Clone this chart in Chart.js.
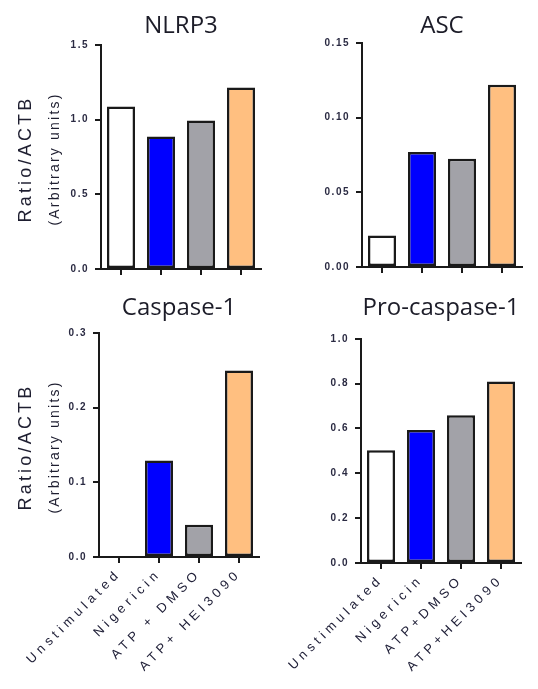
<!DOCTYPE html>
<html><head><meta charset="utf-8">
<script src="https://cdn.jsdelivr.net/npm/chart.js@4.4.1/dist/chart.umd.min.js"></script>
<style>
html,body{margin:0;padding:0;background:#fff;width:538px;height:689px;overflow:hidden;position:relative;}
canvas{position:absolute;display:block;}
.ylab{position:absolute;white-space:nowrap;transform:translate(-50%,-50%) rotate(-90deg);font-family:"Liberation Sans",Arial,sans-serif;color:#1e1e30;}
.l1{font-size:18px;letter-spacing:3.2px;}
.l2{font-size:14px;letter-spacing:2.2px;}
</style></head><body>
<canvas id="c1" width="270" height="290" style="left:0;top:0"></canvas>
<canvas id="c2" width="268" height="290" style="left:270px;top:0"></canvas>
<canvas id="c3" width="270" height="399" style="left:0;top:290px"></canvas>
<canvas id="c4" width="268" height="399" style="left:270px;top:290px"></canvas>
<div class="ylab l1" style="left:25px;top:159px">Ratio/ACTB</div>
<div class="ylab l2" style="left:54px;top:159px">(Arbitrary units)</div>
<div class="ylab l1" style="left:25px;top:447px">Ratio/ACTB</div>
<div class="ylab l2" style="left:54px;top:447px">(Arbitrary units)</div>
<script>
// ---- data ----
const categoriesLeft = ["Unstimulated", "Nigericin", "ATP + DMSO", "ATP+ HEI3090"];
const categoriesRight = ["Unstimulated", "Nigericin", "ATP+DMSO", "ATP+HEI3090"];
const nlrp3 = [1.087, 0.886, 0.993, 1.214];
const asc = [0.021, 0.077, 0.0725, 0.122];
const caspase1 = [0.001, 0.129, 0.0433, 0.2495];
const procaspase1 = [0.503, 0.593, 0.659, 0.809];
const panelTitles = ["NLRP3", "ASC", "Caspase-1", "Pro-caspase-1"];
const yMaxes = [1.5, 0.15, 0.3, 1.0];
const ySteps = [0.5, 0.05, 0.1, 0.2];
const yDecimals = [1, 2, 1, 1];
const barColors = ["#ffffff", "#0000ff", "#a2a2a8", "#ffbf80"];

const supportsLS = 'letterSpacing' in CanvasRenderingContext2D.prototype;
function setLS(chart, v) {
  if (supportsLS) chart.ctx.letterSpacing = v;
  else chart.canvas.style.letterSpacing = v;
}
// letter spacing: 0 for titles, small for y ticks, wide for category labels
const spacingPlugin = {
  id: 'spacing',
  beforeDraw(chart) { setLS(chart, '0px'); },
  afterDatasetsDraw(chart, args, opts) { setLS(chart, opts.x || '0px'); },
  afterDraw(chart) { setLS(chart, '0px'); }
};
function tickColor(spacing, col) {
  return (c) => { setLS(c.chart, spacing); return col; };
}

function makeChart(id, idx, data, labels, L) {
  const ax = '#1a1a1a';
  return new Chart(document.getElementById(id), {
    type: 'bar',
    data: {
      labels: labels,
      datasets: [{
        data: data,
        backgroundColor: barColors,
        borderColor: ax,
        borderWidth: 2.5,
        borderSkipped: false,
        categoryPercentage: 1,
        barPercentage: 0.7
      }]
    },
    plugins: [spacingPlugin],
    options: {
      responsive: false,
      animation: false,
      layout: { padding: { left: L.padL, right: L.padR, top: 0, bottom: 0 } },
      plugins: {
        legend: { display: false },
        tooltip: { enabled: false },
        spacing: { x: '4.3px' },
        title: {
          display: true,
          text: panelTitles[idx],
          fullSize: false,
          color: '#1c1c28',
          font: { family: '"Open Sans"', size: 24, weight: 'normal', lineHeight: 1.2 },
          padding: { top: L.tTop, bottom: L.tBot }
        }
      },
      scales: {
        x: {
          type: 'category',
          offset: true,
          grid: { offset: false, drawOnChartArea: false, drawTicks: true, tickLength: 6, color: ax, lineWidth: 2 },
          border: { display: true, color: ax, width: 2 },
          ticks: {
            z: 1,
            display: L.showLabels,
            autoSkip: false,
            maxRotation: 45, minRotation: 45,
            padding: 3,
            color: tickColor('4.3px', '#22223a'),
            font: { family: '"Liberation Sans"', size: 13 }
          },
          afterFit(s) { s.height = L.xH; }
        },
        y: {
          min: 0,
          max: yMaxes[idx],
          grid: { drawOnChartArea: false, drawTicks: true, tickLength: 6, color: ax, lineWidth: 2 },
          border: { display: true, color: ax, width: 2 },
          ticks: {
            stepSize: ySteps[idx],
            padding: 6,
            color: tickColor('1.5px', '#2a2a42'),
            font: { family: '"Liberation Sans"', size: 10, weight: 'bold' },
            callback: v => Number(v).toFixed(yDecimals[idx])
          },
          afterFit(s) { s.width = 40; }
        }
      }
    }
  });
}

makeChart('c1', 0, nlrp3, categoriesLeft, { padL: 61, padR: 9, tTop: 12, tBot: 4, xH: 21, showLabels: false });
makeChart('c2', 1, asc, categoriesRight, { padL: 52, padR: 16, tTop: 12, tBot: 2, xH: 23, showLabels: false });
makeChart('c3', 2, caspase1, categoriesLeft, { padL: 59, padR: 11, tTop: 4, tBot: 10, xH: 132, showLabels: true });
makeChart('c4', 3, procaspase1, categoriesRight, { padL: 51, padR: 17, tTop: 4, tBot: 16, xH: 126, showLabels: true });
</script>
</body></html>
